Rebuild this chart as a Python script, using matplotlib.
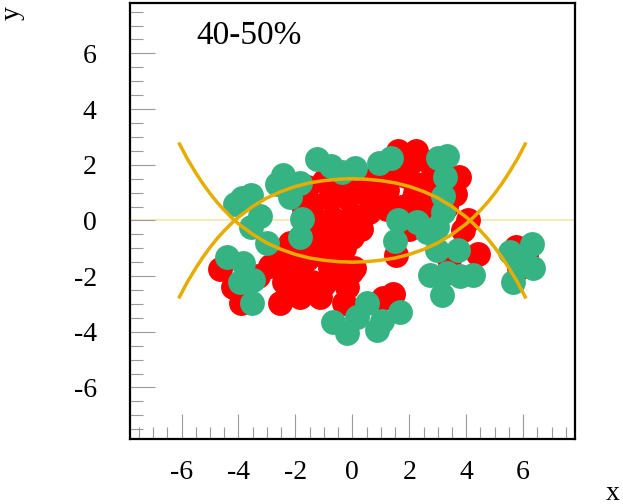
import matplotlib
matplotlib.use("Agg")
import matplotlib.pyplot as plt
from matplotlib.ticker import MultipleLocator, FixedLocator

plt.rcParams['font.family'] = ['Liberation Serif', 'DejaVu Serif']
plt.rcParams['axes.unicode_minus'] = False

# ---- data ----
red_x = [-1.6, -1.0, -0.3, 0.4, 1.0, 1.6, 2.25, 2.7, 3.75, 3.6, 4.05,
         -1.4, -0.8, -0.2, 0.5, 1.2, 1.9, 2.5, 2.1, 2.8,
         -1.3, -0.7, 0.0, 0.6, 1.2, -1.5, -2.2, -0.9, -0.3, 0.3,
         -1.0, -0.3, 0.05, 1.55, 2.0, 3.9, 4.4, 3.4,
         -0.5, 0.0, 0.8, 1.4, 2.0, 2.2, 3.0, 1.7, 2.4, -1.0, -0.5, 0.0, -0.6,
         -1.7, 3.3, 2.9, 0.9,
         -4.65, -4.2, -3.9, -3.3, -2.9, -2.4, -2.55, -1.85, -1.9, -1.4,
         -1.15, -0.8, -0.45, -0.3, -0.05, -0.5, -1.3, -2.1,
         -2.0, -1.0, -0.2, -2.6, -1.6,
         1.07, 1.42, 5.75, 6.1, 5.85]
red_y = [1.2, 1.4, 1.3, 1.5, 1.8, 2.5, 2.5, 2.1, 1.55, 0.95, 0.0,
         0.6, 0.8, 0.8, 0.9, 1.1, 1.6, 1.3, 0.7, 0.8,
         0.0, 0.1, 0.2, 0.3, 0.4, -0.5, -0.8, -0.5, -0.4, -0.3,
         -1.0, -1.0, -1.7, -1.25, -0.3, -0.35, -1.2, -1.4,
         1.0, 1.0, 1.3, 1.6, 2.0, 1.0, 1.5, 0.5, 0.4, -0.2, -0.2, -0.6, -0.9,
         0.4, 0.5, 1.9, 0.7,
         -1.75, -2.4, -2.95, -2.0, -1.65, -2.2, -2.95, -2.75, -1.6, -2.2,
         -2.75, -1.7, -2.0, -2.95, -1.85, -1.2, -1.2, -1.1,
         -2.2, -2.3, -2.4, -1.5, -1.4,
         -2.8, -2.65, -0.95, -1.25, -1.7]

green_x = [-4.13, -3.55, -3.88, -3.25, -3.55, -3.0,
           -2.45, -2.65, -1.84, -2.2, -1.77, -1.84,
           -1.25, -0.75, -0.37, 0.09, 0.95, 1.35,
           3.0, 3.32, 3.25, 3.18, 3.18,
           1.6, 2.26, 1.5, 2.62, 2.97, 2.97, 3.7,
           2.72, 3.32, 3.78, 4.23, 3.15,
           5.53, 6.3, 6.34, 5.64, 5.88,
           -4.41, -3.85, -3.95, -3.5, -3.53,
           -0.68, -0.2, 0.16, 0.5, 0.86, 1.04, 1.67]
green_y = [0.6, 0.9, 0.8, 0.15, -0.25, -0.8,
           1.65, 1.3, 1.33, 0.84, 0.05, -0.59,
           2.2, 1.95, 1.74, 1.9, 2.06, 2.25,
           2.25, 2.3, 1.56, 0.88, 0.3,
           0.0, -0.06, -0.75, -0.4, -0.25, -1.05, -1.05,
           -1.96, -1.9, -2.0, -1.96, -2.68,
           -1.15, -0.85, -1.7, -2.2, -1.5,
           -1.31, -1.53, -2.21, -2.14, -2.95,
           -3.65, -4.04, -3.47, -2.97, -3.94, -3.6, -3.3]

curve_x = [-6.1, -5.8, -5.5, -5.25, -5.0, -4.75, -4.5, -4.25, -4.0, -3.5, -3.0, -2.5,
           -2.0, -1.5, -1.0, -0.5, 0.0, 0.5, 1.0, 1.5, 2.0, 2.5, 3.0, 3.5,
           4.0, 4.25, 4.5, 4.75, 5.0, 5.25, 5.5, 5.8, 6.1]
curve_upper = [-2.80, -2.22, -1.71, -1.32, -0.97, -0.65, -0.37, -0.11, 0.12, 0.50, 0.81, 1.04,
               1.22, 1.35, 1.43, 1.48, 1.50, 1.48, 1.43, 1.35, 1.22, 1.04, 0.81, 0.50,
               0.12, -0.11, -0.37, -0.65, -0.97, -1.32, -1.71, -2.22, -2.80]
curve_lower = [2.80, 2.22, 1.71, 1.32, 0.97, 0.65, 0.37, 0.11, -0.12, -0.50, -0.81, -1.04,
               -1.22, -1.35, -1.43, -1.48, -1.50, -1.48, -1.43, -1.35, -1.22, -1.04, -0.81, -0.50,
               -0.12, 0.11, 0.37, 0.65, 0.97, 1.32, 1.71, 2.22, 2.80]

major_ticks = [-6, -4, -2, 0, 2, 4, 6]
tick_labels = ['-6', '-4', '-2', '0', '2', '4', '6']
label_text = '40-50%'

# ---- figure ----
fig = plt.figure(figsize=(6.23, 5.04), dpi=100)
ax = fig.add_axes([130/623, 1-439/504, 445/623, 436/504])

ax.axhline(0, color='#f5e6a8', lw=1.2, zorder=0.5)
ax.scatter(red_x, red_y, s=320, c='#ff0000', linewidths=0, zorder=2)
ax.scatter(green_x, green_y, s=320, c='#36b383', linewidths=0, zorder=3)
ax.plot(curve_x, curve_upper, color='#e6ad00', lw=2.5, zorder=4, solid_capstyle='butt')
ax.plot(curve_x, curve_lower, color='#e6ad00', lw=2.5, zorder=4, solid_capstyle='butt')

ax.set_xlim(-7.81, 7.82)
ax.set_ylim(-7.85, 7.81)

ax.xaxis.set_major_locator(FixedLocator(major_ticks))
ax.yaxis.set_major_locator(FixedLocator(major_ticks))
ax.set_xticklabels(tick_labels)
ax.set_yticklabels(tick_labels)
ax.xaxis.set_minor_locator(MultipleLocator(0.5))
ax.yaxis.set_minor_locator(MultipleLocator(0.5))

ax.tick_params(which='both', direction='in', top=False, right=False,
               color='#9a9a9a', width=0.8)
ax.tick_params(which='major', length=18, labelsize=20)
ax.tick_params(which='minor', length=9)
ax.tick_params(axis='x', which='major', pad=15)
ax.tick_params(axis='y', which='major', pad=24)

for sp in ax.spines.values():
    sp.set_linewidth(1.6)
    sp.set_color('black')

ax.text(0.15, 0.925, label_text, transform=ax.transAxes, fontsize=24,
        ha='left', va='center')

fig.text(12/623, 1-13/504, 'y', rotation=90, fontsize=20, ha='center', va='center')
fig.text(613/623, 1-493/504, 'x', fontsize=20, ha='center', va='center')

fig.savefig('out.png', dpi=100)
